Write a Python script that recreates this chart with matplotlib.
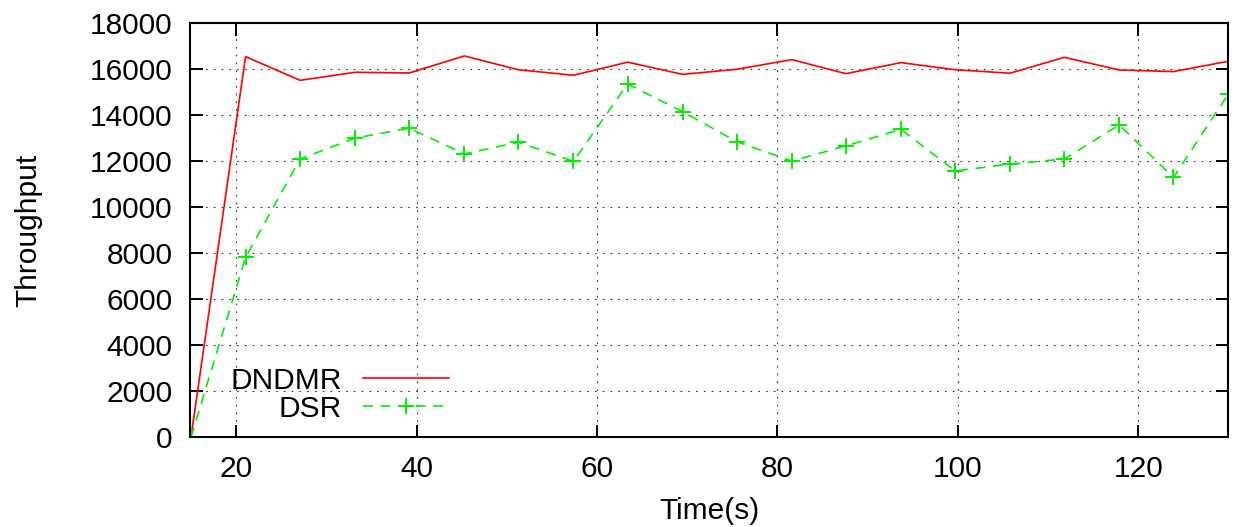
import matplotlib.pyplot as plt

plt.rcParams['font.family'] = ['Liberation Sans', 'DejaVu Sans']

# simulation time samples (s)
time_s = [15, 21.05, 27.1, 33.2, 39.2, 45.3, 51.3, 57.4, 63.4, 69.5,
          75.5, 81.6, 87.6, 93.7, 99.7, 105.8, 111.8, 117.9, 123.9, 130]

# throughput of each protocol
dndmr = [0, 16550, 15520, 15870, 15840, 16580, 15980, 15740, 16310, 15780,
         16000, 16420, 15810, 16290, 15980, 15830, 16520, 15970, 15900, 16350]
dsr = [0, 7820, 12100, 13010, 13440, 12320, 12830, 12000, 15360, 14160,
       12850, 12010, 12670, 13390, 11580, 11880, 12100, 13580, 11300, 14930]

x_ticks = [20, 40, 60, 80, 100, 120]
y_ticks = list(range(0, 18001, 2000))

fs = 21.5

fig = plt.figure(figsize=(12.4, 5.27), dpi=100)
ax = fig.add_axes([0.1535, 0.1702, 0.8372, 0.7856])

ax.plot(time_s, dndmr, color='#ff0000', linewidth=1.2, label='DNDMR')
ax.plot(time_s, dsr, color='#00ee00', linewidth=1.2, dashes=(6, 4.5),
        marker='+', markersize=11, markeredgewidth=1.4, label='DSR')

ax.set_xlim(14.93, 130)
ax.set_ylim(0, 18000)
ax.set_xticks(x_ticks)
ax.set_yticks(y_ticks)

ax.grid(True, color='#303030', linewidth=0.8, linestyle=(0, (1.5, 5.5)))
ax.tick_params(direction='in', length=9, width=1.4, labelsize=fs,
               top=True, right=True, pad=13)
for side in ax.spines.values():
    side.set_linewidth(1.5)

ax.set_xlabel('Time(s)', fontsize=fs, labelpad=10)
ax.set_ylabel('Throughput', fontsize=fs, labelpad=34)

ax.legend(loc='lower right', bbox_to_anchor=(0.2495, 0.035), frameon=False,
          fontsize=fs, markerfirst=False, handlelength=2.9,
          handletextpad=0.7, labelspacing=0.0, borderaxespad=0.0,
          borderpad=0.0)

fig.savefig('out.png', dpi=100)
